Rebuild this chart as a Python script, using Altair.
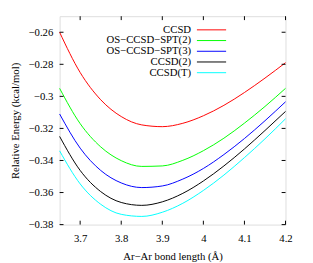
import altair as alt
import pandas as pd

# bond length (Å)
r = [3.65, 3.70, 3.75, 3.80, 3.85, 3.90, 3.95, 4.00, 4.05, 4.10, 4.15, 4.20]

ccsd      = [-0.2600, -0.2851, -0.3021, -0.3126, -0.3178, -0.3189, -0.3168, -0.3121, -0.3056, -0.2976, -0.2886, -0.2790]
os_spt2   = [-0.2950, -0.3170, -0.3315, -0.3401, -0.3437, -0.3434, -0.3399, -0.3339, -0.3261, -0.3167, -0.3063, -0.2950]
os_spt3   = [-0.3110, -0.3323, -0.3462, -0.3540, -0.3569, -0.3559, -0.3516, -0.3450, -0.3363, -0.3263, -0.3152, -0.3034]
ccsd2     = [-0.3250, -0.3462, -0.3594, -0.3662, -0.3680, -0.3658, -0.3605, -0.3528, -0.3434, -0.3328, -0.3213, -0.3094]
ccsdt     = [-0.3340, -0.3546, -0.3673, -0.3736, -0.3749, -0.3723, -0.3667, -0.3587, -0.3491, -0.3382, -0.3265, -0.3140]

series_names = ["CCSD", "OS\u2212CCSD\u2212SPT(2)", "OS\u2212CCSD\u2212SPT(3)", "CCSD(2)", "CCSD(T)"]
series_vals = [ccsd, os_spt2, os_spt3, ccsd2, ccsdt]
colors = ["#ff0000", "#00ff00", "#0000ff", "#000000", "#00ffff"]

x_ticks = [3.7, 3.8, 3.9, 4.0, 4.1, 4.2]
y_ticks = [-0.38, -0.36, -0.34, -0.32, -0.30, -0.28, -0.26]

rows = []
for name, vals in zip(series_names, series_vals):
    for xi, yi in zip(r, vals):
        rows.append({"r": xi, "E": yi, "method": name})
df = pd.DataFrame(rows)

W, H = 232, 214
FONT = "Times New Roman, Liberation Serif, serif"

xscale = alt.Scale(domain=[3.65, 4.2], nice=False, zero=False)
yscale = alt.Scale(domain=[-0.38, -0.25], nice=False, zero=False)
color_scale = alt.Scale(domain=series_names, range=colors)

common = dict(ticks=False, domain=False, grid=False, labelFlush=False,
              labelFont=FONT, titleFont=FONT, labelFontSize=11, titleFontSize=11,
              labelFontWeight="normal", titleFontWeight="normal",
              labelColor="black", titleColor="black")
xaxis = alt.Axis(values=x_ticks, format="~g", title="Ar\u2212Ar bond length (\u00c5)",
                 labelPadding=8, titlePadding=8, **common)
yaxis = alt.Axis(values=y_ticks, format="~g", title="Relative Energy (kcal/mol)",
                 labelPadding=7, titlePadding=8, **common)

lines = alt.Chart(df).mark_line(strokeWidth=1, interpolate="monotone").encode(
    x=alt.X("r:Q", scale=xscale, axis=xaxis),
    y=alt.Y("E:Q", scale=yscale, axis=yaxis),
    color=alt.Color("method:N", scale=color_scale, legend=None),
    detail="method:N",
)

ydf = pd.DataFrame({"r": [3.65] * len(y_ticks), "E": y_ticks})
xdf = pd.DataFrame({"r": x_ticks, "E": [-0.38] * len(x_ticks)})

left = alt.Chart(ydf).mark_rule(color="black", strokeWidth=1).encode(
    y=alt.Y("E:Q", scale=yscale, axis=yaxis), x=alt.value(0), x2=alt.value(4))
right = alt.Chart(ydf).mark_rule(color="black", strokeWidth=1).encode(
    y=alt.Y("E:Q", scale=yscale, axis=yaxis), x=alt.value(W - 4), x2=alt.value(W))
bottom = alt.Chart(xdf).mark_rule(color="black", strokeWidth=1).encode(
    x=alt.X("r:Q", scale=xscale, axis=xaxis), y=alt.value(H - 4), y2=alt.value(H))
top = alt.Chart(xdf).mark_rule(color="black", strokeWidth=1).encode(
    x=alt.X("r:Q", scale=xscale, axis=xaxis), y=alt.value(0), y2=alt.value(4))

main = alt.layer(lines, left, right, bottom, top)

# key (legend) in the upper right, gnuplot style: label then line sample
ldf = pd.DataFrame({"method": series_names})
leg_y = alt.Y("method:N", sort=series_names, axis=None,
              scale=alt.Scale(type="point", range=[14, 58], padding=0))
leg_text = alt.Chart(ldf).mark_text(align="right", baseline="middle", font=FONT,
                                    fontSize=11, fontWeight="normal", color="black").encode(
    x=alt.value(135), y=leg_y, text="method:N")
leg_line = alt.Chart(ldf).mark_rule(strokeWidth=1).encode(
    x=alt.value(141), x2=alt.value(171), y=leg_y,
    color=alt.Color("method:N", scale=color_scale, legend=None))
key = alt.layer(leg_line, leg_text)

chart = alt.layer(main, key).resolve_scale(y="independent").properties(
    width=W, height=H,
    autosize=alt.AutoSizeParams(type="none"),
    padding={"left": 53, "top": 5, "right": 20, "bottom": 36},
).configure_view(stroke="black", strokeWidth=1).configure(background="white")

chart.save("out.html", embed_options={"renderer": "svg", "actions": False})
